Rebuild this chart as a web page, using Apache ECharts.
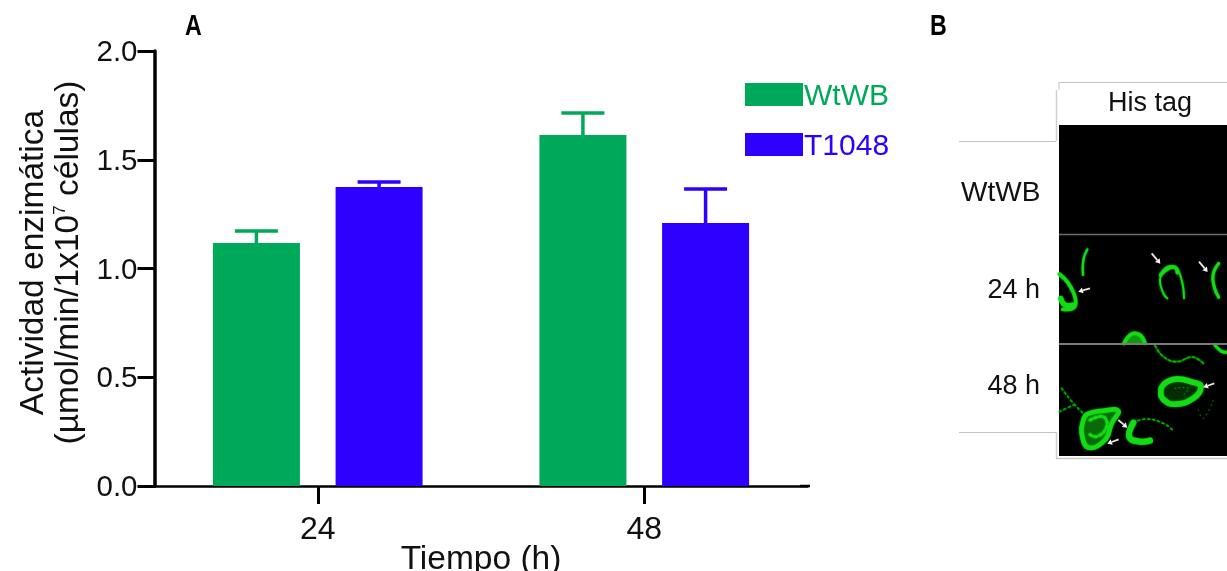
<!DOCTYPE html>
<html><head><meta charset="utf-8">
<style>html,body{margin:0;padding:0;background:#fff}#c{width:1227px;height:571px}</style>
<script src="https://cdn.jsdelivr.net/npm/echarts@6/dist/echarts.min.js"></script>
</head><body><div id="c"></div>
<script>
const categories = ['24', '48'];
const seriesNames = ['WtWB', 'T1048'];
const wtwb = [1.117, 1.614];
const t1048 = [1.375, 1.209];
const wtwbUpper = [1.172, 1.715];
const t1048Upper = [1.398, 1.366];
const yTicks = { min: 0, max: 2, interval: 0.5 };

const GREEN = '#00A859', BLUE = '#2E00FF';
const FONT = '"Liberation Sans", Arial, sans-serif';
const BAR_W = 87, BAR_GAP = '41%';

function errSeries(upper, base, color, idx) {
  return {
    type: 'custom', z: 1, silent: true,
    data: upper.map((u, i) => [i, base[i], u]),
    encode: { x: 0, y: [1, 2] },
    renderItem(params, api) {
      const layout = api.barLayout({ count: 2, barWidth: BAR_W, barGap: BAR_GAP });
      const p0 = api.coord([api.value(0), api.value(1)]);
      const p1 = api.coord([api.value(0), api.value(2)]);
      const x = p0[0] + layout[idx].offsetCenter;
      return { type: 'group', children: [
        { type: 'line', shape: { x1: x, y1: p0[1], x2: x, y2: p1[1] }, style: { stroke: color, lineWidth: 3.5 } },
        { type: 'line', shape: { x1: x - 21.5, y1: p1[1], x2: x + 21.5, y2: p1[1] }, style: { stroke: color, lineWidth: 3.5 } }
      ]};
    }
  };
}

// Panel B: micrograph sketch (zoom-coordinates of the picture panel)
const zx = v => 930 + v / 3, zy = v => 230 + v / 3;
const pts = a => a.map(p => [zx(p[0]), zy(p[1])]);
const CELL = '#14DC14';
function stroke(a, w, opt) {
  opt = opt || {};
  return { type: opt.closed ? 'polygon' : 'polyline', z: 5, shape: { points: pts(a), smooth: opt.smooth === undefined ? 0.45 : opt.smooth },
    style: { stroke: opt.color || CELL, lineWidth: w, fill: opt.fill || null, lineDash: opt.dash || null, lineCap: 'round', lineJoin: 'round', shadowBlur: 2, shadowColor: opt.color || CELL } };
}
function arrow(tail, head) {
  const dx = head[0] - tail[0], dy = head[1] - tail[1], l = Math.hypot(dx, dy), ux = dx / l, uy = dy / l;
  const b = [head[0] - ux * 14, head[1] - uy * 14];
  return [
    { type: 'line', z: 6, shape: { x1: zx(tail[0]), y1: zy(tail[1]), x2: zx(b[0]), y2: zy(b[1]) }, style: { stroke: '#e8e8e8', lineWidth: 1.8 } },
    { type: 'polygon', z: 6, shape: { points: pts([head, [b[0] - uy * 9, b[1] + ux * 9], [b[0] + uy * 9, b[1] - ux * 9]]) }, style: { fill: '#f4f4f4' } }
  ];
}
const txt = (text, x, y, size, align, extra) => ({ type: 'text', z: 7, x, y, style: Object.assign({ text, font: size + 'px ' + FONT, fill: '#111', textAlign: align || 'left', textVerticalAlign: 'middle' }, extra || {}) });
const gline = (x1, y1, x2, y2, color, w) => ({ type: 'line', z: 4, shape: { x1, y1, x2, y2 }, style: { stroke: color, lineWidth: w } });
const panelLetter = (t, x) => Object.assign(txt(t, x, 27, 29, 'left', { font: 'bold 29px ' + FONT, fill: '#000' }), { scaleX: 0.8 });

const panelB = [
  panelLetter('A', 185),
  panelLetter('B', 930),
  gline(1059, 82.5, 1227, 82.5, '#c4c4c4', 1),
  gline(1059, 82, 1059, 90, '#c4c4c4', 1),
  gline(1056.5, 90, 1056.5, 141, '#cfcfcf', 1.5),
  gline(959, 141.5, 1056, 141.5, '#c4c4c4', 1),
  gline(959, 432.5, 1056, 432.5, '#c4c4c4', 1),
  gline(1056.5, 432, 1056.5, 458, '#cfcfcf', 1.5),
  gline(1056, 458.5, 1227, 458.5, '#c8c8c8', 1.5),
  { type: 'rect', z: 4, shape: { x: 1059, y: 125, width: 168, height: 331 }, style: { fill: '#000' } },
  txt('His tag', 1150, 104, 27, 'center'),
  txt('WtWB', 961, 193, 28),
  txt('24 h', 1040, 290.5, 27, 'right'),
  txt('48 h', 1040, 386.5, 27, 'right'),
  stroke([[472, 58], [460, 90], [459, 135]], 2.2),
  stroke([[388, 132], [415, 160], [436, 205], [432, 232], [398, 238]], 3.5),
  stroke([[392, 205], [405, 225], [430, 225]], 5),
  stroke([[762, 205], [755, 150], [735, 112], [705, 115], [690, 150], [700, 190], [712, 205]], 1.8),
  stroke([[692, 135], [710, 118], [735, 112], [742, 128]], 3.5),
  stroke([[866, 100], [849, 135], [854, 175], [866, 202]], 3),
  stroke([[582, 340], [605, 312], [630, 315], [645, 340]], 3.5, { fill: '#0e9a0e' }),
  stroke([[675, 346], [700, 380], [740, 395], [780, 382], [800, 385], [820, 400]], 1.6, { dash: [3, 2], color: '#0cae0c' }),
  stroke([[855, 346], [875, 364], [891, 367]], 3),
  stroke([[702, 462], [740, 447], [790, 457], [813, 470], [790, 505], [735, 523], [702, 510], [692, 488]], 5.5, { closed: true, fill: '#052c05' }),
  stroke([[735, 475], [775, 475], [760, 495]], 1, { dash: [1, 3], color: '#0a9a0a' }),
  stroke([[472, 552], [520, 542], [565, 542], [545, 580], [525, 630], [475, 653], [455, 610], [460, 570]], 4.5, { closed: true, fill: '#0a6a0a' }),
  stroke([[480, 570], [520, 560], [530, 590], [500, 620], [475, 610]], 3, { dash: [2, 3] }),
  stroke([[610, 578], [650, 567], [700, 580], [728, 600]], 1.5, { dash: [2, 3], color: '#0cae0c' }),
  stroke([[610, 578], [598, 622], [630, 635], [660, 632]], 6),
  stroke([[395, 475], [430, 520], [460, 550]], 1.6, { dash: [2, 3], color: '#0b9a0b' }),
  stroke([[388, 545], [430, 525]], 1.6, { dash: [2, 3], color: '#0b9a0b' }),
  stroke([[805, 540], [820, 565], [850, 510]], 1, { dash: [1, 4], color: '#0a7a0a' }),
  ...arrow([480, 175], [445, 185]),
  ...arrow([665, 70], [691, 101]),
  ...arrow([807, 95], [833, 126]),
  ...arrow([853, 460], [820, 472]),
  ...arrow([565, 570], [592, 593]),
  ...arrow([566, 628], [532, 641]),
  { type: 'line', z: 6, shape: { x1: 1059, y1: 234.5, x2: 1227, y2: 234.5 }, style: { stroke: '#6e6e6e', lineWidth: 1.6 } },
  { type: 'line', z: 6, shape: { x1: 1059, y1: 344, x2: 1227, y2: 344 }, style: { stroke: '#7a7a7a', lineWidth: 2 } },
  // x axis line runs slightly past the last band
  { type: 'line', z: 3, shape: { x1: 800, y1: 486, x2: 810, y2: 486 }, style: { stroke: '#000', lineWidth: 2.5 } }
];

const chart = echarts.init(document.getElementById('c'), null, { renderer: 'canvas' });
chart.setOption({
  animation: false,
  backgroundColor: '#fff',
  textStyle: { fontFamily: FONT },
  grid: { left: 154.5, top: 51, width: 653, height: 435, containLabel: false, outerBoundsMode: 'none' },
  legend: {
    orient: 'vertical', left: 740, top: 76.5, itemWidth: 58, itemHeight: 23, itemGap: 20, selectedMode: false, icon: 'rect',
    formatter: n => '{t|' + n + '}',
    data: seriesNames.map((n, i) => ({ name: n, textStyle: { padding: [0, 0, 0, -4], rich: { t: { color: i ? BLUE : GREEN, fontSize: 30, fontFamily: FONT, padding: [4, 0, 0, 0] } } } }))
  },
  xAxis: {
    type: 'category', data: categories,
    axisLine: { lineStyle: { color: '#000', width: 2.5 } },
    axisTick: { show: true, alignWithLabel: true, length: 18, lineStyle: { color: '#000', width: 3 } },
    axisLabel: { color: '#111', fontSize: 32, margin: 28, fontFamily: FONT },
    name: 'Tiempo (h)', nameLocation: 'middle', nameGap: 57, nameMoveOverlap: false,
    nameTextStyle: { color: '#111', fontSize: 33.5, fontFamily: FONT }
  },
  yAxis: {
    type: 'value', min: yTicks.min, max: yTicks.max, interval: yTicks.interval,
    splitLine: { show: false },
    axisLine: { show: true, lineStyle: { color: '#000', width: 3.5 } },
    axisTick: { show: true, length: 17, lineStyle: { color: '#000', width: 3 } },
    axisLabel: { color: '#111', fontSize: 29.5, margin: 17, verticalAlign: 'top', padding: [-13, 0, 0, 0], fontFamily: FONT, formatter: v => v.toFixed(1) },
    name: '{a|Actividad enzimática}\n{a|(µmol/min/1x10}{s|7}{a| células)}',
    nameLocation: 'middle', nameGap: 68, nameRotate: 90, nameMoveOverlap: false,
    nameTextStyle: { padding: [0, 0, 0, 12], rich: {
      a: { fontSize: 33.5, lineHeight: 35, color: '#111', fontFamily: FONT },
      s: { fontSize: 17, lineHeight: 35, color: '#111', fontFamily: FONT, verticalAlign: 'top' }
    } }
  },
  series: [
    { name: seriesNames[0], type: 'bar', data: wtwb, barWidth: BAR_W, barGap: BAR_GAP, itemStyle: { color: GREEN }, z: 2 },
    { name: seriesNames[1], type: 'bar', data: t1048, barWidth: BAR_W, barGap: BAR_GAP, itemStyle: { color: BLUE }, z: 2 },
    errSeries(wtwbUpper, wtwb, GREEN, 0),
    errSeries(t1048Upper, t1048, BLUE, 1)
  ],
  graphic: { elements: panelB }
});
</script></body></html>
